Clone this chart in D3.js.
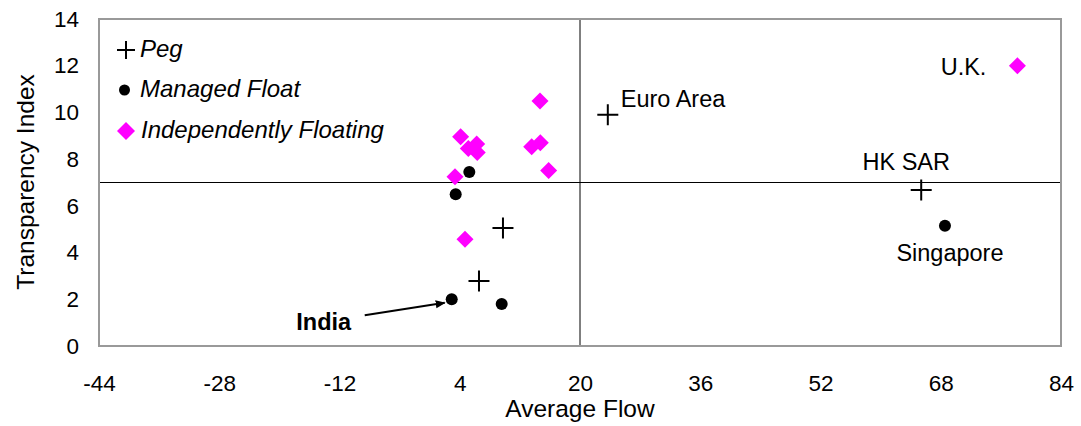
<!DOCTYPE html>
<html><head><meta charset="utf-8">
<script src="https://cdn.jsdelivr.net/npm/d3@7"></script>
<style>body{margin:0;background:#fff;} text{font-family:"Liberation Sans",Arial,sans-serif;}</style>
</head><body>
<svg id="c" width="1081" height="426"></svg>
<script>
const xTicks = [-44,-28,-12,4,20,36,52,68,84];
const yTicks = [0,2,4,6,8,10,12,14];
const pegX = [23.7, 65.4, 9.75, 6.56];
const pegY = [9.9, 6.68, 5.05, 2.78];
const pegLabels = ["Euro Area","HK SAR","",""];
const mfX = [5.27, 3.46, 2.93, 9.58, 68.56];
const mfY = [7.45, 6.5, 2.0, 1.8, 5.15];
const mfLabels = ["","","India","","Singapore"];
const ifX = [78.2, 14.68, 4.12, 6.25, 5.14, 6.33, 13.57, 14.72, 15.83, 3.37, 4.7];
const ifY = [12.0, 10.49, 8.96, 8.65, 8.46, 8.28, 8.53, 8.70, 7.51, 7.25, 4.57];
const ifLabels = ["U.K.","","","","","","","","","",""];
const legendNames = ["Peg","Managed Float","Independently Floating"];

const svg = d3.select("#c");
const L=99, R=1061, T=19, B=346;
const x = d3.scaleLinear().domain([-44,84]).range([L,R]);
const y = d3.scaleLinear().domain([0,14]).range([B,T]);

// reference lines
svg.append("line").attr("x1",x(20)).attr("x2",x(20)).attr("y1",T).attr("y2",B).attr("stroke","#000").attr("stroke-width",1);
svg.append("line").attr("x1",L).attr("x2",R).attr("y1",y(7)).attr("y2",y(7)).attr("stroke","#000").attr("stroke-width",1);
// frame
svg.append("rect").attr("x",L).attr("y",T).attr("width",R-L).attr("height",B-T).attr("fill","none").attr("stroke","#999").attr("stroke-width",2);

// axes labels
const xa = svg.append("g").attr("transform",`translate(0,${B})`).call(d3.axisBottom(x).tickValues(xTicks).tickSize(0).tickPadding(29).tickFormat(d=>String(d)));
xa.select(".domain").remove();
xa.selectAll("text").attr("font-size",22.5).attr("fill","#000").style("font-family","Liberation Sans, Arial");
const ya = svg.append("g").attr("transform",`translate(${L},0)`).call(d3.axisLeft(y).tickValues(yTicks).tickSize(0).tickPadding(20).tickFormat(d=>String(d)));
ya.select(".domain").remove();
ya.selectAll("text").attr("font-size",22.5).attr("fill","#000").style("font-family","Liberation Sans, Arial");

svg.append("text").attr("x",580).attr("y",417).attr("text-anchor","middle").attr("font-size",24.5).text("Average Flow");
svg.append("text").attr("transform","translate(28,182) rotate(-90)").attr("text-anchor","middle").attr("dominant-baseline","middle").attr("font-size",24.5).text("Transparency Index");

function plus(g, cx, cy, s){
  g.append("path").attr("d",`M${cx-s},${cy}H${cx+s}M${cx},${cy-s}V${cy+s}`).attr("stroke","#000").attr("stroke-width",2).attr("fill","none");
}
function diamond(g, cx, cy, s){
  g.append("path").attr("d",`M${cx},${cy-s}L${cx+s},${cy}L${cx},${cy+s}L${cx-s},${cy}Z`).attr("fill","#ff00ff");
}

const gp = svg.append("g");
ifX.forEach((v,i)=>diamond(gp, x(v), y(ifY[i]), 8.5));
mfX.forEach((v,i)=>gp.append("circle").attr("cx",x(v)).attr("cy",y(mfY[i])).attr("r",6).attr("fill","#000"));
pegX.forEach((v,i)=>plus(gp, x(v), y(pegY[i]), 10.5));

// labels
const lab = svg.append("g").attr("font-size",23.5).attr("fill","#000");
lab.append("text").attr("x",x(pegX[0])+13).attr("y",y(pegY[0])-8).text(pegLabels[0]);
lab.append("text").attr("x",x(pegX[1])-15).attr("y",y(pegY[1])-20).attr("text-anchor","middle").text(pegLabels[1]);
lab.append("text").attr("x",x(mfX[4])+5).attr("y",y(mfY[4])+35).attr("text-anchor","middle").text(mfLabels[4]);
lab.append("text").attr("x",x(ifX[0])-31).attr("y",y(ifY[0])+9).attr("text-anchor","end").text(ifLabels[0]);
lab.append("text").attr("x",x(mfX[2])-128).attr("y",y(mfY[2])+31).attr("text-anchor","middle").attr("font-weight","bold").text(mfLabels[2]);

// arrow
svg.append("defs").append("marker").attr("id","ah").attr("viewBox","0 0 10 10").attr("refX",9).attr("refY",5)
  .attr("markerWidth",5).attr("markerHeight",5).attr("orient","auto")
  .append("path").attr("d","M0,1L10,5L0,9Z").attr("fill","#000");
svg.append("line").attr("x1",x(mfX[2])-87).attr("y1",y(mfY[2])+16).attr("x2",x(mfX[2])-7).attr("y2",y(mfY[2])+3.5)
  .attr("stroke","#000").attr("stroke-width",2).attr("marker-end","url(#ah)");

// legend
const lg = svg.append("g").attr("font-size",24).attr("font-style","italic");
plus(lg, 126, 50, 9);
lg.append("text").attr("x",140).attr("y",57).text(legendNames[0]);
lg.append("circle").attr("cx",124.5).attr("cy",90).attr("r",5.5).attr("fill","#000");
lg.append("text").attr("x",140).attr("y",97).text(legendNames[1]);
diamond(lg, 126, 131, 9);
lg.append("text").attr("x",141).attr("y",137.5).text(legendNames[2]);
</script>
</body></html>
